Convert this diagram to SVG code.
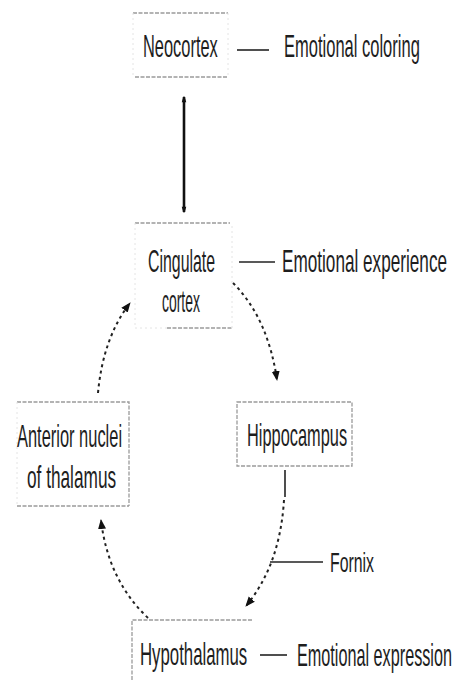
<svg xmlns="http://www.w3.org/2000/svg" width="461" height="680" viewBox="0 0 461 680">
<defs>
<style>
.t{font-family:"Liberation Sans",Arial,sans-serif;font-size:32px;fill:#1e1e1e;}
.s{font-size:27px;}
.bx{fill:none;stroke:#9a9a9a;stroke-width:1.3;stroke-dasharray:4 1.5;}
.bf{fill:none;stroke:#e4e4e4;stroke-width:1;stroke-dasharray:2 3;}
.dl{fill:none;stroke:#222;stroke-width:2;stroke-dasharray:3 3.5;}
.sl{fill:none;stroke:#222;stroke-width:1.6;}
</style>
<marker id="ah" viewBox="0 0 10 10" refX="9" refY="5" markerWidth="5" markerHeight="5" orient="auto-start-reverse" markerUnits="strokeWidth">
<path d="M0,1 L10,5 L0,9 Z" fill="#111"/>
</marker>
<marker id="av" viewBox="0 0 10 10" refX="9" refY="5" markerWidth="6" markerHeight="2.2" orient="auto-start-reverse" markerUnits="strokeWidth">
<path d="M0,1 L10,4 L10,6 L0,9 Z" fill="#111"/>
</marker>
</defs>
<rect width="461" height="680" fill="#fff"/>

<g id="neocortex">
<path class="bx" d="M133,13 H228 M135,77 H228"/>
<path class="bf" d="M133,13 V77 M228,13 V77"/>
<text class="t" transform="translate(143,57) scale(0.55,1)" textLength="136" lengthAdjust="spacingAndGlyphs">Neocortex</text>
</g>
<g id="label-coloring">
<text class="t" transform="translate(284,57) scale(0.55,1)" textLength="247" lengthAdjust="spacingAndGlyphs">Emotional coloring</text>
</g>

<g id="cingulate">
<path class="bx" d="M135,223 H230 M167,328 H232"/>
<path class="bf" d="M135,223 V328 H167 M232,328 V223"/>
<text class="t" transform="translate(148,272) scale(0.55,1)" textLength="122" lengthAdjust="spacingAndGlyphs">Cingulate</text>
<text class="t" transform="translate(162,312) scale(0.55,1)" textLength="69" lengthAdjust="spacingAndGlyphs">cortex</text>
</g>
<g id="label-experience">
<text class="t" transform="translate(282,272) scale(0.55,1)" textLength="300" lengthAdjust="spacingAndGlyphs">Emotional experience</text>
</g>

<g id="anterior">
<path class="bx" d="M17,402 H129 V506 M17,506 H129"/>
<path class="bf" d="M17,402 V506"/>
<text class="t" transform="translate(17,447) scale(0.55,1)" textLength="191" lengthAdjust="spacingAndGlyphs">Anterior nuclei</text>
<text class="t" transform="translate(27,488) scale(0.55,1)" textLength="162" lengthAdjust="spacingAndGlyphs">of thalamus</text>
</g>

<g id="hippocampus">
<rect class="bx" x="237" y="402" width="115" height="64"/>
<text class="t" transform="translate(247,446) scale(0.55,1)" textLength="182" lengthAdjust="spacingAndGlyphs">Hippocampus</text>
</g>

<g id="hypothalamus">
<path class="bx" d="M132,680 V620 H253"/>
<text class="t" transform="translate(140,665) scale(0.55,1)" textLength="195" lengthAdjust="spacingAndGlyphs">Hypothalamus</text>
</g>
<g id="label-expression">
<text class="t" transform="translate(297,666) scale(0.5,1)" textLength="310" lengthAdjust="spacingAndGlyphs">Emotional expression</text>
</g>

<g id="label-fornix">
<text class="t s" transform="translate(330,572) scale(0.55,1)" textLength="80" lengthAdjust="spacingAndGlyphs">Fornix</text>
</g>

<g id="connectors">
<line x1="184" y1="97" x2="184" y2="212" stroke="#111" stroke-width="2.6" marker-start="url(#av)" marker-end="url(#av)"/>
<line class="sl" x1="237" y1="50" x2="269" y2="50"/>
<line class="sl" x1="239" y1="262" x2="275" y2="262"/>
<line class="sl" x1="260" y1="655" x2="287" y2="655"/>
<line class="sl" x1="270" y1="562" x2="323" y2="562"/>
<path class="dl" d="M233,283 Q268,318 277,380" marker-end="url(#ah)"/>
<line class="sl" x1="285" y1="470" x2="285" y2="497"/>
<path class="dl" d="M284,500 Q280,565 246,606" marker-end="url(#ah)"/>
<path class="dl" d="M148,618 Q108,580 101,520" marker-end="url(#ah)"/>
<path class="dl" d="M98,393 Q103,338 130,303" marker-end="url(#ah)"/>
</g>
</svg>
